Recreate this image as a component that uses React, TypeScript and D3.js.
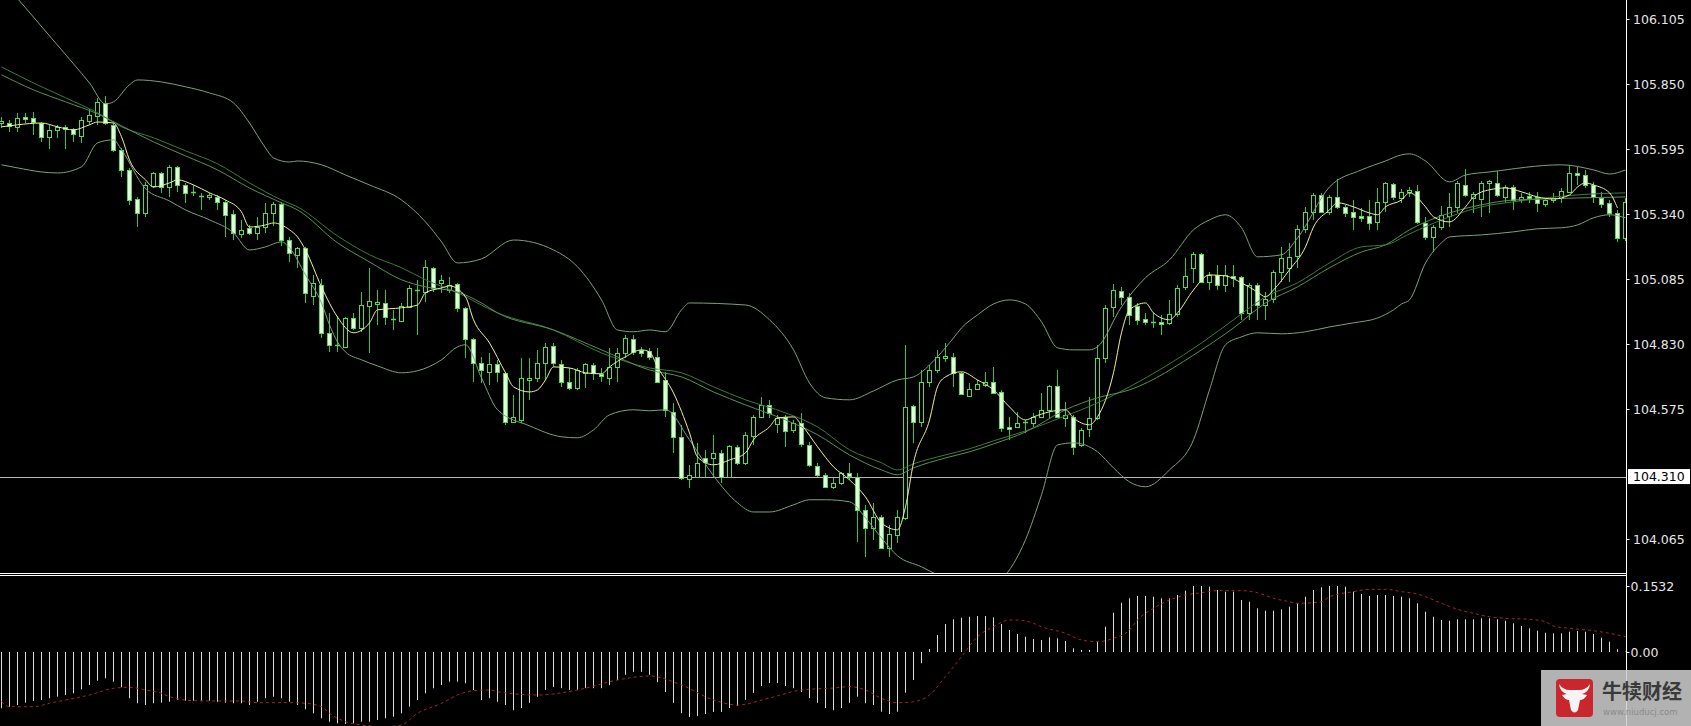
import React from "react";
import * as d3 from "d3";

// ---------- DATA ----------
const opens = [
  105.697, 105.697, 105.682, 105.721, 105.717, 105.697, 105.642, 105.670, 105.682, 105.674,
  105.646, 105.705, 105.725, 105.776, 105.690, 105.592, 105.513, 105.399, 105.344, 105.450,
  105.501, 105.446, 105.525, 105.454, 105.427, 105.411, 105.407, 105.407, 105.388, 105.340,
  105.262, 105.286, 105.266, 105.289, 105.344, 105.380, 105.238, 105.180, 105.207, 105.019,
  105.062, 104.873, 104.827, 104.819, 104.932, 104.893, 104.979, 104.987, 104.991, 104.928,
  104.921, 104.975, 105.038, 105.034, 105.129, 105.070, 105.042, 105.066, 104.972, 104.850,
  104.756, 104.720, 104.752, 104.716, 104.524, 104.532, 104.689, 104.697, 104.756, 104.823,
  104.752, 104.681, 104.658, 104.716, 104.748, 104.713, 104.697, 104.740, 104.795, 104.850,
  104.807, 104.803, 104.780, 104.689, 104.564, 104.466, 104.301, 104.309, 104.383, 104.383,
  104.403, 104.309, 104.427, 104.364, 104.470, 104.544, 104.591, 104.517, 104.544, 104.493,
  104.521, 104.434, 104.352, 104.317, 104.270, 104.285, 104.325, 104.309, 104.179, 104.109,
  104.152, 104.030, 104.081, 104.148, 104.587, 104.524, 104.681, 104.728, 104.776, 104.780,
  104.716, 104.626, 104.654, 104.670, 104.681, 104.642, 104.505, 104.505, 104.524, 104.521,
  104.544, 104.572, 104.666, 104.540, 104.544, 104.434, 104.497, 104.540, 104.776, 104.975,
  105.038, 105.015, 104.979, 104.928, 104.917, 104.917, 104.913, 104.948, 105.054, 105.129,
  105.184, 105.074, 105.101, 105.062, 105.097, 105.093, 104.952, 105.062, 104.983, 105.007,
  105.113, 105.129, 105.176, 105.282, 105.348, 105.415, 105.348, 105.407, 105.368, 105.348,
  105.333, 105.333, 105.309, 105.388, 105.458, 105.403, 105.427, 105.431, 105.305, 105.250,
  105.289, 105.333, 105.368, 105.454, 105.403, 105.399, 105.462, 105.462, 105.407, 105.446,
  105.395, 105.411, 105.407, 105.380, 105.395, 105.403, 105.427, 105.501, 105.493, 105.454,
  105.403, 105.384, 105.344, 105.246,
];

const highs = [
  105.721, 105.709, 105.736, 105.736, 105.740, 105.701, 105.690, 105.690, 105.690, 105.678,
  105.721, 105.752, 105.795, 105.803, 105.697, 105.599, 105.521, 105.407, 105.466, 105.505,
  105.505, 105.533, 105.529, 105.462, 105.454, 105.423, 105.423, 105.415, 105.395, 105.356,
  105.317, 105.297, 105.329, 105.384, 105.388, 105.388, 105.250, 105.211, 105.211, 105.101,
  105.086, 104.952, 104.940, 104.936, 104.952, 105.034, 105.129, 105.042, 105.042, 104.964,
  104.991, 105.062, 105.082, 105.160, 105.133, 105.101, 105.093, 105.070, 104.975, 104.854,
  104.780, 104.795, 104.768, 104.720, 104.630, 104.776, 104.776, 104.807, 104.834, 104.834,
  104.768, 104.736, 104.736, 104.756, 104.756, 104.736, 104.815, 104.815, 104.866, 104.866,
  104.819, 104.815, 104.815, 104.720, 104.599, 104.513, 104.356, 104.442, 104.415, 104.474,
  104.415, 104.434, 104.434, 104.485, 104.552, 104.622, 104.611, 104.552, 104.552, 104.532,
  104.560, 104.446, 104.364, 104.325, 104.305, 104.329, 104.364, 104.325, 104.199, 104.207,
  104.160, 104.121, 104.179, 104.827, 104.591, 104.728, 104.748, 104.807, 104.834, 104.795,
  104.720, 104.677, 104.689, 104.720, 104.740, 104.650, 104.544, 104.564, 104.532, 104.560,
  104.638, 104.670, 104.728, 104.603, 104.552, 104.501, 104.622, 104.827, 104.983, 105.066,
  105.054, 105.030, 104.991, 104.952, 104.952, 104.944, 105.003, 105.062, 105.168, 105.191,
  105.188, 105.113, 105.140, 105.140, 105.140, 105.097, 105.070, 105.070, 105.034, 105.121,
  105.211, 105.227, 105.297, 105.368, 105.423, 105.423, 105.415, 105.478, 105.376, 105.395,
  105.364, 105.395, 105.442, 105.466, 105.462, 105.438, 105.446, 105.454, 105.329, 105.297,
  105.372, 105.423, 105.470, 105.517, 105.427, 105.470, 105.474, 105.509, 105.454, 105.454,
  105.423, 105.427, 105.427, 105.403, 105.423, 105.442, 105.533, 105.525, 105.513, 105.466,
  105.427, 105.395, 105.356, 105.403,
];

const lows = [
  105.678, 105.662, 105.662, 105.697, 105.650, 105.623, 105.595, 105.638, 105.595, 105.623,
  105.619, 105.690, 105.690, 105.690, 105.584, 105.485, 105.376, 105.289, 105.329, 105.442,
  105.423, 105.407, 105.427, 105.384, 105.411, 105.356, 105.395, 105.356, 105.250, 105.238,
  105.246, 105.258, 105.238, 105.266, 105.293, 105.215, 105.152, 105.129, 104.991, 104.983,
  104.854, 104.799, 104.799, 104.815, 104.885, 104.877, 104.795, 104.905, 104.905, 104.885,
  104.917, 104.972, 104.866, 104.995, 105.034, 105.030, 105.030, 104.956, 104.776, 104.681,
  104.677, 104.670, 104.681, 104.513, 104.520, 104.520, 104.611, 104.681, 104.689, 104.740,
  104.662, 104.650, 104.650, 104.658, 104.689, 104.681, 104.670, 104.681, 104.776, 104.787,
  104.780, 104.768, 104.677, 104.544, 104.403, 104.297, 104.266, 104.305, 104.309, 104.309,
  104.285, 104.305, 104.356, 104.356, 104.434, 104.540, 104.540, 104.481, 104.427, 104.481,
  104.427, 104.348, 104.309, 104.266, 104.262, 104.277, 104.297, 104.054, 103.995, 104.062,
  104.026, 103.995, 104.050, 104.140, 104.442, 104.505, 104.662, 104.716, 104.760, 104.662,
  104.630, 104.622, 104.650, 104.662, 104.634, 104.485, 104.454, 104.501, 104.481, 104.505,
  104.540, 104.540, 104.540, 104.505, 104.395, 104.427, 104.466, 104.532, 104.756, 104.936,
  104.983, 104.905, 104.905, 104.905, 104.893, 104.866, 104.905, 104.936, 105.042, 105.070,
  105.070, 105.042, 105.042, 105.034, 105.054, 104.925, 104.925, 104.925, 104.925, 104.991,
  105.074, 105.074, 105.129, 105.266, 105.317, 105.344, 105.337, 105.360, 105.329, 105.278,
  105.309, 105.278, 105.278, 105.348, 105.395, 105.384, 105.407, 105.301, 105.238, 105.191,
  105.278, 105.289, 105.344, 105.407, 105.344, 105.329, 105.344, 105.407, 105.384, 105.356,
  105.384, 105.384, 105.348, 105.368, 105.384, 105.384, 105.423, 105.454, 105.442, 105.384,
  105.364, 105.329, 105.231, 105.235,
];

const closes = [
  105.705, 105.686, 105.717, 105.713, 105.701, 105.642, 105.670, 105.682, 105.674, 105.654,
  105.709, 105.729, 105.780, 105.697, 105.592, 105.513, 105.395, 105.344, 105.454, 105.501,
  105.446, 105.525, 105.454, 105.423, 105.423, 105.407, 105.415, 105.388, 105.337, 105.266,
  105.278, 105.266, 105.289, 105.344, 105.380, 105.238, 105.188, 105.207, 105.031, 105.070,
  104.873, 104.827, 104.823, 104.932, 104.893, 104.983, 104.999, 104.995, 104.936, 104.925,
  104.979, 105.050, 105.042, 105.133, 105.050, 105.082, 105.062, 104.972, 104.850, 104.756,
  104.728, 104.752, 104.720, 104.524, 104.544, 104.697, 104.697, 104.756, 104.819, 104.756,
  104.681, 104.658, 104.728, 104.752, 104.716, 104.705, 104.740, 104.795, 104.854, 104.799,
  104.795, 104.780, 104.681, 104.572, 104.466, 104.305, 104.317, 104.364, 104.368, 104.403,
  104.309, 104.430, 104.364, 104.474, 104.544, 104.591, 104.560, 104.540, 104.489, 104.521,
  104.438, 104.356, 104.317, 104.270, 104.285, 104.325, 104.313, 104.179, 104.109, 104.152,
  104.030, 104.085, 104.152, 104.583, 104.524, 104.681, 104.728, 104.780, 104.784, 104.716,
  104.634, 104.654, 104.674, 104.681, 104.638, 104.501, 104.497, 104.521, 104.521, 104.544,
  104.572, 104.666, 104.544, 104.552, 104.427, 104.493, 104.540, 104.776, 104.972, 105.042,
  105.015, 104.944, 104.925, 104.917, 104.913, 104.909, 104.948, 105.050, 105.097, 105.184,
  105.074, 105.101, 105.062, 105.101, 105.090, 104.952, 105.062, 104.983, 105.007, 105.113,
  105.168, 105.172, 105.282, 105.348, 105.415, 105.348, 105.407, 105.368, 105.344, 105.329,
  105.325, 105.305, 105.388, 105.462, 105.407, 105.427, 105.435, 105.309, 105.250, 105.289,
  105.337, 105.368, 105.462, 105.415, 105.419, 105.462, 105.470, 105.415, 105.446, 105.395,
  105.407, 105.403, 105.384, 105.395, 105.403, 105.431, 105.501, 105.493, 105.454, 105.407,
  105.380, 105.344, 105.246, 105.388,
];

// Bollinger bands / moving averages sampled along the bar index: [bar, price]
const upperBand: [number, number][] = [
  [0, 106.258], [3, 106.149], [6, 106.039], [9, 105.929], [11, 105.854], [13, 105.772], [14, 105.780],
  [16, 105.847], [17, 105.866], [20, 105.858], [23, 105.839], [26, 105.815], [29, 105.776], [31, 105.697],
  [33, 105.599], [34, 105.560], [36, 105.544], [37, 105.548], [40, 105.533], [43, 105.493], [46, 105.454],
  [50, 105.395], [53, 105.309], [55, 105.231], [57, 105.148], [60, 105.164], [64, 105.238], [69, 105.199],
  [72, 105.133], [75, 105.003], [77, 104.885], [79, 104.878], [81, 104.885], [83, 104.878], [85, 104.964],
  [86, 104.991], [93, 104.983], [96, 104.925], [99, 104.807], [101, 104.677], [103, 104.619], [106, 104.611],
  [109, 104.646], [112, 104.689], [114, 104.701], [117, 104.780], [119, 104.854], [120, 104.893],
  [122, 104.944], [124, 104.987], [126, 105.003], [128, 104.987], [130, 104.917], [132, 104.815],
  [134, 104.807], [136, 104.807], [137, 104.819], [140, 104.976], [143, 105.090], [146, 105.160],
  [149, 105.278], [151, 105.317], [153, 105.337], [155, 105.286], [157, 105.172], [160, 105.180],
  [162, 105.246], [166, 105.446], [170, 105.513], [173, 105.548], [175, 105.572], [176, 105.576],
  [178, 105.548], [181, 105.466], [183, 105.493], [186, 105.505], [195, 105.533], [199, 105.513],
  [201, 105.497], [203, 105.513],
];

const lowerBand: [number, number][] = [
  [0, 105.533], [2, 105.521], [5, 105.505], [7, 105.501], [10, 105.525], [12, 105.619], [14, 105.631],
  [15, 105.592], [18, 105.439], [21, 105.391], [23, 105.356], [26, 105.317], [29, 105.266], [31, 105.199],
  [33, 105.211], [35, 105.231], [36, 105.207], [38, 105.101], [40, 104.991], [41, 104.905], [42, 104.838],
  [43, 104.799], [45, 104.768], [47, 104.744], [50, 104.717], [52, 104.725], [55, 104.768], [57, 104.819],
  [58, 104.827], [60, 104.697], [62, 104.572], [66, 104.509], [70, 104.466], [72, 104.462], [74, 104.493],
  [76, 104.552], [79, 104.572], [81, 104.568], [83, 104.572], [86, 104.454], [89, 104.313], [92, 104.207],
  [94, 104.171], [96, 104.171], [99, 104.199], [101, 104.219], [103, 104.219], [106, 104.211],
  [108, 104.148], [110, 104.069], [112, 103.999], [115, 103.956], [117, 103.924], [120, 103.885],
  [123, 103.865], [125, 103.905], [128, 104.062], [130, 104.238], [132, 104.434], [134, 104.442],
  [137, 104.407], [139, 104.344], [141, 104.289], [143, 104.270], [146, 104.336], [149, 104.454],
  [151, 104.650], [153, 104.827], [155, 104.858], [157, 104.874], [160, 104.870], [163, 104.878],
  [166, 104.897], [169, 104.913], [172, 104.932], [174, 104.964], [175, 104.987], [176, 105.003],
  [178, 105.148], [180, 105.227], [181, 105.250], [185, 105.258], [189, 105.270], [192, 105.282],
  [195, 105.286], [197, 105.297], [199, 105.325], [201, 105.337], [203, 105.325],
];

const maSlow: [number, number][] = [
  [0, 105.917], [4, 105.854], [8, 105.796], [12, 105.737], [15, 105.682], [19, 105.639], [23, 105.588],
  [27, 105.537], [31, 105.462], [35, 105.395], [37, 105.368], [42, 105.254], [46, 105.180], [50, 105.129],
  [53, 105.082], [57, 105.031], [62, 104.952], [69, 104.885], [75, 104.795], [81, 104.736], [85, 104.717],
  [89, 104.662], [93, 104.611], [98, 104.560], [102, 104.505], [106, 104.415], [110, 104.364],
  [112, 104.336], [114, 104.360], [118, 104.395], [121, 104.419], [124, 104.450], [128, 104.489],
  [133, 104.548], [137, 104.599], [141, 104.662], [150, 104.834], [154, 104.925], [158, 105.015],
  [162, 105.070], [166, 105.148], [170, 105.211], [173, 105.219], [176, 105.262], [181, 105.329],
  [185, 105.368], [189, 105.388], [193, 105.403], [197, 105.415], [203, 105.423],
];

const maMid: [number, number][] = [
  [0, 105.886], [4, 105.827], [8, 105.780], [12, 105.733], [15, 105.686], [19, 105.623], [23, 105.568],
  [27, 105.513], [31, 105.442], [35, 105.384], [37, 105.356], [42, 105.227], [46, 105.152], [50, 105.082],
  [53, 105.054], [57, 105.034], [60, 104.991], [62, 104.952], [69, 104.885], [75, 104.807], [81, 104.728],
  [85, 104.701], [89, 104.642], [93, 104.591], [98, 104.532], [102, 104.474], [106, 104.395],
  [110, 104.336], [112, 104.317], [114, 104.344], [118, 104.383], [121, 104.407], [124, 104.438],
  [128, 104.485], [133, 104.572], [137, 104.619], [141, 104.650], [150, 104.807], [154, 104.893],
  [158, 104.991], [162, 105.054], [166, 105.129], [170, 105.191], [173, 105.219], [176, 105.278],
  [181, 105.344], [185, 105.376], [189, 105.395], [193, 105.399], [197, 105.403], [203, 105.407],
];

const maFast: [number, number][] = [
  [0, 105.682], [2, 105.690], [5, 105.697], [7, 105.682], [9, 105.670], [11, 105.690], [12, 105.701],
  [14, 105.697], [15, 105.643], [16, 105.552], [18, 105.474], [19, 105.446], [21, 105.462], [22, 105.474],
  [24, 105.454], [26, 105.423], [28, 105.395], [30, 105.348], [31, 105.289], [33, 105.297], [34, 105.305],
  [36, 105.278], [37, 105.250], [38, 105.199], [40, 105.054], [42, 104.936], [44, 104.874], [46, 104.913],
  [47, 104.964], [50, 104.972], [52, 104.983], [53, 105.031], [55, 105.050], [56, 105.058], [58, 105.015],
  [59, 104.925], [61, 104.834], [63, 104.717], [64, 104.662], [66, 104.642], [67, 104.650], [68, 104.689],
  [69, 104.740], [71, 104.736], [73, 104.717], [75, 104.713], [76, 104.740], [78, 104.780], [80, 104.807],
  [81, 104.799], [82, 104.740], [84, 104.638], [86, 104.481], [87, 104.387], [89, 104.356], [91, 104.375],
  [93, 104.403], [94, 104.454], [96, 104.505], [97, 104.540], [99, 104.544], [100, 104.513], [102, 104.427],
  [104, 104.348], [106, 104.297], [108, 104.230], [110, 104.128], [112, 104.101], [113, 104.191],
  [114, 104.364], [116, 104.532], [117, 104.662], [118, 104.701], [120, 104.721], [122, 104.689],
  [124, 104.650], [126, 104.583], [128, 104.532], [129, 104.544], [131, 104.564], [133, 104.572],
  [134, 104.540], [136, 104.513], [137, 104.544], [139, 104.717], [140, 104.874], [141, 104.964],
  [143, 104.991], [144, 104.952], [146, 104.925], [147, 104.952], [149, 105.042], [151, 105.101],
  [153, 105.097], [155, 105.070], [157, 105.034], [158, 105.015], [159, 105.042], [161, 105.121],
  [163, 105.211], [164, 105.289], [166, 105.356], [167, 105.384], [169, 105.368], [171, 105.344],
  [172, 105.337], [173, 105.368], [175, 105.395], [176, 105.423], [178, 105.368], [179, 105.329],
  [181, 105.309], [183, 105.368], [184, 105.407], [186, 105.435], [188, 105.442], [190, 105.427],
  [192, 105.407], [194, 105.399], [196, 105.415], [197, 105.446], [198, 105.462], [199, 105.454],
  [201, 105.423], [202, 105.364],
];

// MACD histogram (one value per bar) and its signal line
const macdHist = [
  -0.1307, -0.1270, -0.1230, -0.1177, -0.1137, -0.1114, -0.1075, -0.1037, -0.0998, -0.0959,
  -0.0866, -0.0766, -0.0666, -0.0610, -0.0689, -0.0819, -0.1075, -0.1191, -0.1230, -0.1191,
  -0.1177, -0.1154, -0.1114, -0.1130, -0.1130, -0.1130, -0.1130, -0.1154, -0.1177, -0.1191,
  -0.1191, -0.1230, -0.1154, -0.1075, -0.1037, -0.1075, -0.1154, -0.1230, -0.1330, -0.1423,
  -0.1539, -0.1618, -0.1655, -0.1671, -0.1655, -0.1618, -0.1618, -0.1578, -0.1539, -0.1502,
  -0.1423, -0.1270, -0.1114, -0.0959, -0.0843, -0.0766, -0.0689, -0.0689, -0.0726, -0.0882,
  -0.1114, -0.1075, -0.1154, -0.1230, -0.1350, -0.1300, -0.1180, -0.1040, -0.0880, -0.0810,
  -0.0840, -0.0880, -0.0880, -0.0840, -0.0840, -0.0840, -0.0770, -0.0650, -0.0530, -0.0460,
  -0.0460, -0.0530, -0.0700, -0.0930, -0.1180, -0.1420, -0.1510, -0.1490, -0.1440, -0.1390,
  -0.1390, -0.1300, -0.1250, -0.1110, -0.0950, -0.0790, -0.0720, -0.0720, -0.0790, -0.0840,
  -0.0930, -0.1070, -0.1180, -0.1300, -0.1350, -0.1300, -0.1180, -0.1037, -0.1191, -0.1230,
  -0.1386, -0.1439, -0.1386, -0.0945, -0.0650, -0.0262, 0.0070, 0.0395, 0.0650, 0.0759,
  0.0796, 0.0819, 0.0836, 0.0836, 0.0805, 0.0650, 0.0511, 0.0418, 0.0355, 0.0302,
  0.0279, 0.0341, 0.0318, 0.0255, 0.0086, 0.0046, 0.0046, 0.0239, 0.0587, 0.0912,
  0.1144, 0.1246, 0.1300, 0.1300, 0.1284, 0.1246, 0.1246, 0.1323, 0.1423, 0.1532,
  0.1532, 0.1516, 0.1439, 0.1400, 0.1400, 0.1207, 0.1167, 0.1014, 0.0959, 0.0959,
  0.0991, 0.1051, 0.1130, 0.1284, 0.1439, 0.1502, 0.1532, 0.1532, 0.1516, 0.1400,
  0.1346, 0.1300, 0.1323, 0.1323, 0.1300, 0.1284, 0.1246, 0.1130, 0.0935, 0.0819,
  0.0743, 0.0726, 0.0759, 0.0759, 0.0759, 0.0782, 0.0782, 0.0759, 0.0726, 0.0666,
  0.0603, 0.0550, 0.0494, 0.0448, 0.0434, 0.0434, 0.0471, 0.0487, 0.0471, 0.0418,
  0.0332, 0.0239, 0.0063, 0.0010,
];

const macdSignal: [number, number][] = [
  [0, -0.1154], [1, -0.1270], [4, -0.1270], [6, -0.1191], [8, -0.1114], [11, -0.0998], [14, -0.0843],
  [16, -0.0819], [18, -0.0882], [20, -0.0959], [21, -0.1037], [24, -0.1130], [27, -0.1137], [30, -0.1137],
  [32, -0.1177], [36, -0.1177], [38, -0.1191], [40, -0.1270], [41, -0.1423], [43, -0.1618], [45, -0.1694],
  [48, -0.1734], [50, -0.1694], [52, -0.1423], [55, -0.1191], [57, -0.0998], [59, -0.0898], [61, -0.0882],
  [62, -0.0921], [67, -0.0998], [72, -0.0882], [77, -0.0650], [81, -0.0557], [85, -0.0766], [89, -0.1114],
  [92, -0.1230], [96, -0.1068], [100, -0.0882], [104, -0.0836], [106, -0.0805], [108, -0.0882],
  [110, -0.1075], [112, -0.1177], [114, -0.1154], [116, -0.0998], [118, -0.0573], [120, -0.0109],
  [122, 0.0355], [124, 0.0587], [126, 0.0743], [127, 0.0743], [129, 0.0666], [130, 0.0587], [133, 0.0434],
  [135, 0.0279], [137, 0.0239], [139, 0.0318], [141, 0.0511], [142, 0.0743], [144, 0.1014], [146, 0.1207],
  [148, 0.1323], [150, 0.1376], [152, 0.1423], [155, 0.1423], [157, 0.1376], [159, 0.1246], [161, 0.1167],
  [162, 0.1130], [165, 0.1167], [166, 0.1284], [169, 0.1400], [171, 0.1455], [173, 0.1455], [175, 0.1400],
  [177, 0.1346], [178, 0.1284], [180, 0.1130], [182, 0.0991], [184, 0.0898], [186, 0.0819], [188, 0.0782],
  [191, 0.0759], [193, 0.0703], [194, 0.0603], [196, 0.0550], [199, 0.0494], [201, 0.0434], [203, 0.0355],
];

const priceTicks = [106.105, 105.85, 105.595, 105.34, 105.085, 104.83, 104.575, 104.065];
const levelLine = 104.31;
const macdTicks = [0.1532, 0];
const brandName = "牛犊财经";
const brandUrl = "www.niuducj.com";

// ---------- LAYOUT ----------
const W = 1691;
const H = 726;
const AXIS_X = 1626.5;
const MAIN_BOTTOM = 573;
const SUB_TOP = 576;

export default function App() {
  const n = closes.length;
  const x = d3.scaleLinear().domain([0, n - 1]).range([1.5, 1.5 + 8 * (n - 1)]);
  const y = d3.scaleLinear().domain([104.065, 106.105]).range([539, 19]);
  const ym = d3.scaleLinear().domain([0, 0.1532]).range([652, 586]);

  const priceLine = d3
    .line<[number, number]>()
    .x((d) => x(d[0]))
    .y((d) => y(d[1]))
    .curve(d3.curveMonotoneX);
  const sigLine = d3
    .line<[number, number]>()
    .x((d) => x(d[0]))
    .y((d) => ym(d[1]))
    .curve(d3.curveMonotoneX);

  const fmt3 = d3.format(".3f");
  const wick = "#35c835";
  const outline = "#4fe04f";
  const bearFill = "#e9ffe2";

  const candles = d3.range(n).map((i) => {
    const cx = Math.round(x(i) - 0.5) + 0.5;
    const o = y(opens[i]);
    const c = y(closes[i]);
    const hi = y(highs[i]);
    const lo = y(lows[i]);
    const top = Math.round(Math.min(o, c)) + 0.5;
    const bot = Math.round(Math.max(o, c)) + 0.5;
    const bull = closes[i] >= opens[i];
    return (
      <g key={i}>
        <line x1={cx} x2={cx} y1={Math.round(hi)} y2={Math.round(lo)} stroke={wick} strokeWidth={1} />
        {bot - top < 1.5 ? (
          <line x1={cx - 2.5} x2={cx + 2.5} y1={top} y2={top} stroke={outline} strokeWidth={1.5} />
        ) : (
          <rect
            x={cx - 2}
            y={top}
            width={4}
            height={bot - top}
            fill={bull ? "#000" : bearFill}
            stroke={outline}
            strokeWidth={1}
          />
        )}
      </g>
    );
  });

  const bars = macdHist.map((v, i) => {
    const cx = Math.round(x(i) - 0.5) + 0.5;
    return <line key={i} x1={cx} x2={cx} y1={ym(0)} y2={ym(v)} stroke="#dcdcdc" strokeWidth={1} />;
  });

  const font = "'DejaVu Sans', Verdana, sans-serif";

  return (
    <svg
      width={W}
      height={H}
      style={{ position: "fixed", left: 0, top: 0, display: "block", background: "#000" }}
    >
      <defs>
        <clipPath id="mainClip">
          <rect x={0} y={0} width={AXIS_X} height={MAIN_BOTTOM} />
        </clipPath>
        <clipPath id="subClip">
          <rect x={0} y={SUB_TOP + 1} width={AXIS_X} height={H - SUB_TOP - 1} />
        </clipPath>
      </defs>
      <rect x={0} y={0} width={W} height={H} fill="#000" />

      {/* main pane */}
      <g clipPath="url(#mainClip)">
        <line x1={0} x2={AXIS_X} y1={Math.round(y(levelLine)) + 0.5} y2={Math.round(y(levelLine)) + 0.5} stroke="#b8b8b8" strokeWidth={1} />
        {candles}
        <path d={priceLine(upperBand) || ""} fill="none" stroke="#7fa07f" strokeWidth={1} />
        <path d={priceLine(lowerBand) || ""} fill="none" stroke="#7fa07f" strokeWidth={1} />
        <path d={priceLine(maSlow) || ""} fill="none" stroke="#3d7a3d" strokeWidth={1} />
        <path d={priceLine(maMid) || ""} fill="none" stroke="#5a8f5a" strokeWidth={1} />
        <path d={priceLine(maFast) || ""} fill="none" stroke="#f2f29a" strokeWidth={1} />
      </g>

      {/* pane separators */}
      <line x1={0} x2={AXIS_X} y1={MAIN_BOTTOM + 0.5} y2={MAIN_BOTTOM + 0.5} stroke="#fff" strokeWidth={1} />
      <line x1={0} x2={AXIS_X} y1={SUB_TOP - 0.5} y2={SUB_TOP - 0.5} stroke="#fff" strokeWidth={1} />

      {/* MACD pane */}
      <g clipPath="url(#subClip)">
        {bars}
        <path d={sigLine(macdSignal) || ""} fill="none" stroke="#a02828" strokeWidth={1} strokeDasharray="3,3" />
      </g>

      {/* right axis */}
      <line x1={AXIS_X} x2={AXIS_X} y1={0} y2={H} stroke="#fff" strokeWidth={1} />
      {priceTicks.map((p) => (
        <g key={p}>
          <line x1={AXIS_X} x2={AXIS_X + 3} y1={Math.round(y(p)) + 0.5} y2={Math.round(y(p)) + 0.5} stroke="#fff" />
          <text x={1633} y={y(p)} dy="0.36em" fill="#e6e6e6" fontFamily={font} fontSize={12.5}>
            {fmt3(p)}
          </text>
        </g>
      ))}
      <rect x={1628} y={y(levelLine) - 7.5} width={62} height={15} fill="#fff" />
      <text x={1633} y={y(levelLine)} dy="0.36em" fill="#000" fontFamily={font} fontSize={12.5}>
        {fmt3(levelLine)}
      </text>
      {macdTicks.map((v) => (
        <g key={v}>
          <line x1={AXIS_X} x2={AXIS_X + 3} y1={Math.round(ym(v)) + 0.5} y2={Math.round(ym(v)) + 0.5} stroke="#fff" />
          <text x={1630.5} y={ym(v)} dy="0.36em" fill="#e6e6e6" fontFamily={font} fontSize={12.5}>
            {v === 0 ? "0.00" : v.toFixed(4)}
          </text>
        </g>
      ))}

      {/* watermark */}
      <g>
        <rect x={1541} y={670} width={150} height={56} fill="#cfcfcf" opacity={0.86} />
        <rect x={1556} y={679} width={37} height={38} rx={4} fill="#c9272d" />
        <path
          d="M1559,684 Q1560,692 1567,694 L1562,695 Q1565,700 1569,700 L1571,710 Q1574.5,715 1578,710 L1580,700 Q1584,700 1587,695 L1582,694 Q1589,692 1590,684 Q1586,690 1579,690 L1570,690 Q1563,690 1559,684 Z"
          fill="#f4f4f4"
        />
        <text x={1602} y={699} fill="#3a3a3a" fontFamily="'Noto Sans CJK SC', sans-serif" fontWeight={700} fontSize={20}>
          {brandName}
        </text>
        <text x={1603} y={715} fill="#8a8a8a" fontFamily={font} fontSize={8.5}>
          {brandUrl}
        </text>
      </g>
    </svg>
  );
}
